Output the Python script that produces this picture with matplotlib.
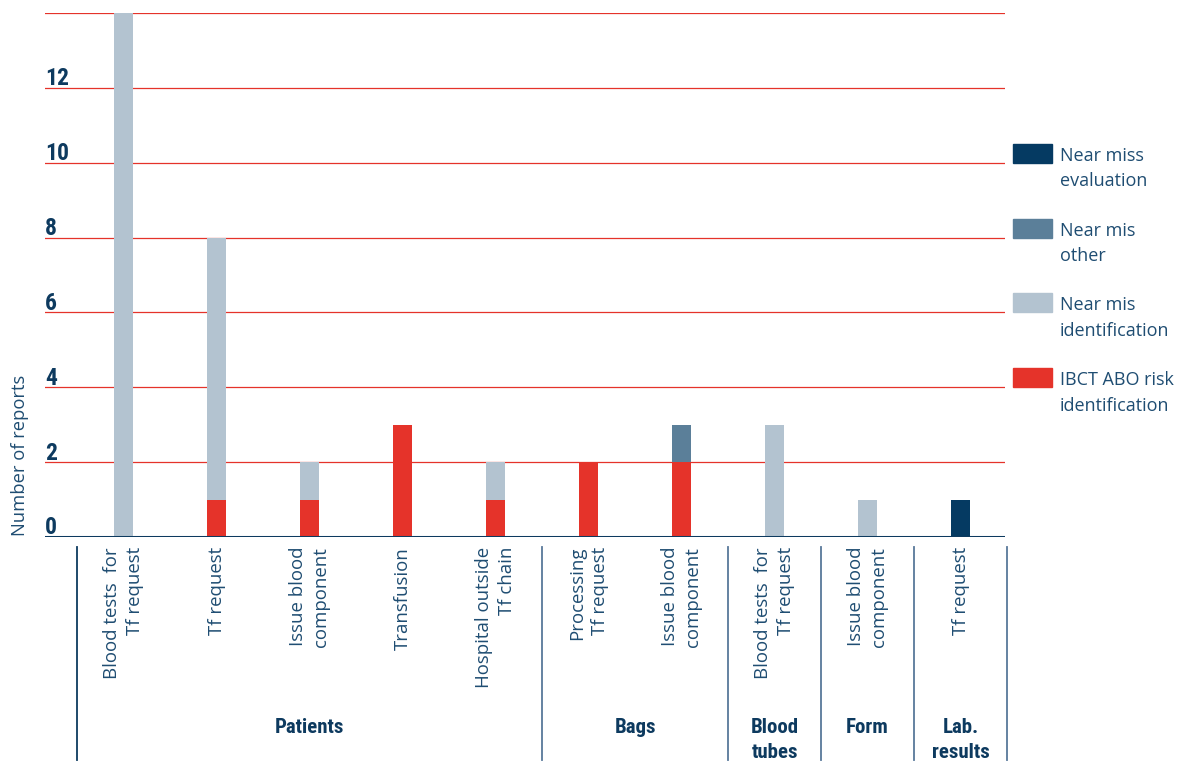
import numpy as np
import matplotlib
matplotlib.use("Agg")
import matplotlib.pyplot as plt
from matplotlib.patches import Rectangle
from matplotlib.transforms import blended_transform_factory

# Categories on the x axis and their groups
categories = ["Blood tests  for\nTf request", "Tf request", "Issue blood\ncomponent",
              "Transfusion", "Hospital outside\nTf chain", "Processing\nTf request",
              "Issue blood\ncomponent", "Blood tests  for\nTf request",
              "Issue blood\ncomponent", "Tf request"]
groups = ["Patients", "Bags", "Blood\ntubes", "Form", "Lab.\nresults"]
group_sizes = [5, 2, 1, 1, 1]

# Number of reports per series (stacked bottom to top)
ibct_abo = [0, 1, 1, 3, 1, 2, 2, 0, 0, 0]
nm_identification = [14, 7, 1, 0, 1, 0, 0, 3, 1, 0]
nm_other = [0, 0, 0, 0, 0, 0, 1, 0, 0, 0]
nm_evaluation = [0, 0, 0, 0, 0, 0, 0, 0, 0, 1]

series = [ibct_abo, nm_identification, nm_other, nm_evaluation]
series_names = ["IBCT ABO risk\nidentification", "Near mis\nidentification",
                "Near mis\nother", "Near miss\nevaluation"]
colors = ["#e5332a", "#b3c3d0", "#5b7f99", "#053a62"]

yticks = [0, 2, 4, 6, 8, 10, 12]
grid_vals = [2, 4, 6, 8, 10, 12, 14]

navy = "#0d3a5f"
light_navy = "#1f4d72"
bold_font = ["Liberation Sans Narrow", "Roboto Condensed", "Open Sans", "DejaVu Sans"]
light_font = ["Open Sans", "DejaVu Sans"]

W, H = 1182, 763
fig = plt.figure(figsize=(W / 100, H / 100), dpi=100)
ax = fig.add_axes([45 / W, 1 - 537 / H, 960 / W, 524 / H])
unit = 524 / 14  # pixels per report

x = np.arange(len(categories))
bottom = np.zeros(len(categories))
for vals, c in zip(series, colors):
    ax.bar(x, vals, width=0.204, bottom=bottom, color=c, zorder=3)
    bottom += np.array(vals)

# red horizontal lines and dark baseline
for g in grid_vals:
    ax.axhline(g, color="#e5332a", lw=0.9, zorder=1)
ax.axhline(0, color="#0d3a5f", lw=2.2, zorder=4)

ax.set_xlim(-0.844, 9.478)
ax.set_ylim(0, 14)
for s in ax.spines.values():
    s.set_visible(False)
ax.set_xticks([])
ax.set_yticks([])

# y tick values sitting on top of the lines
ytr = blended_transform_factory(ax.transAxes, ax.transData)
for v in yticks:
    ax.text(0.0, v + 0.07, str(v), transform=ytr, ha="left", va="baseline",
            fontsize=17, fontweight="bold", color=navy, family=bold_font)

fig.text(20 / W, 1 - 536 / H, "Number of reports", rotation=90, ha="center",
         va="bottom", fontsize=13.2, color=light_navy, family=light_font)

# category labels
xtr = blended_transform_factory(ax.transData, ax.transAxes)
for i, lab in enumerate(categories):
    ax.annotate(lab, xy=(i, 0), xycoords=xtr, xytext=(0, -10),
                textcoords="offset pixels", rotation=90, ha="center", va="top",
                multialignment="right", fontsize=13.4, color=light_navy,
                family=light_font, linespacing=1.3)

# group separators and group names
edges = np.concatenate([[0], np.cumsum(group_sizes)]) - 0.5
for i, e in enumerate(edges):
    ax.plot([e, e], [-10 / 524, -223 / 524], transform=xtr, clip_on=False,
            color="#0d3a5f" if i == 0 else "#58789a", lw=1.3)
for name, a, b in zip(groups, edges[:-1], edges[1:]):
    ax.text((a + b) / 2, -181 / 524, name, transform=xtr, ha="center", va="top",
            fontsize=15, fontweight="bold", color=navy, family=bold_font,
            linespacing=1.4)

# legend at the right
for k, (name, c) in enumerate(zip(series_names[::-1], colors[::-1])):
    y_px = 537 - (10 - 2 * k) * unit
    fig.patches.append(Rectangle((1013 / W, 1 - y_px / H), 39 / W, 19 / H,
                                 transform=fig.transFigure, color=c, zorder=3))
    fig.text(1060 / W, 1 - (y_px - 16) / H, name, ha="left", va="top",
             fontsize=13, color=light_navy, family=light_font, linespacing=1.55)

fig.savefig("out.png", dpi=100, facecolor="white")
